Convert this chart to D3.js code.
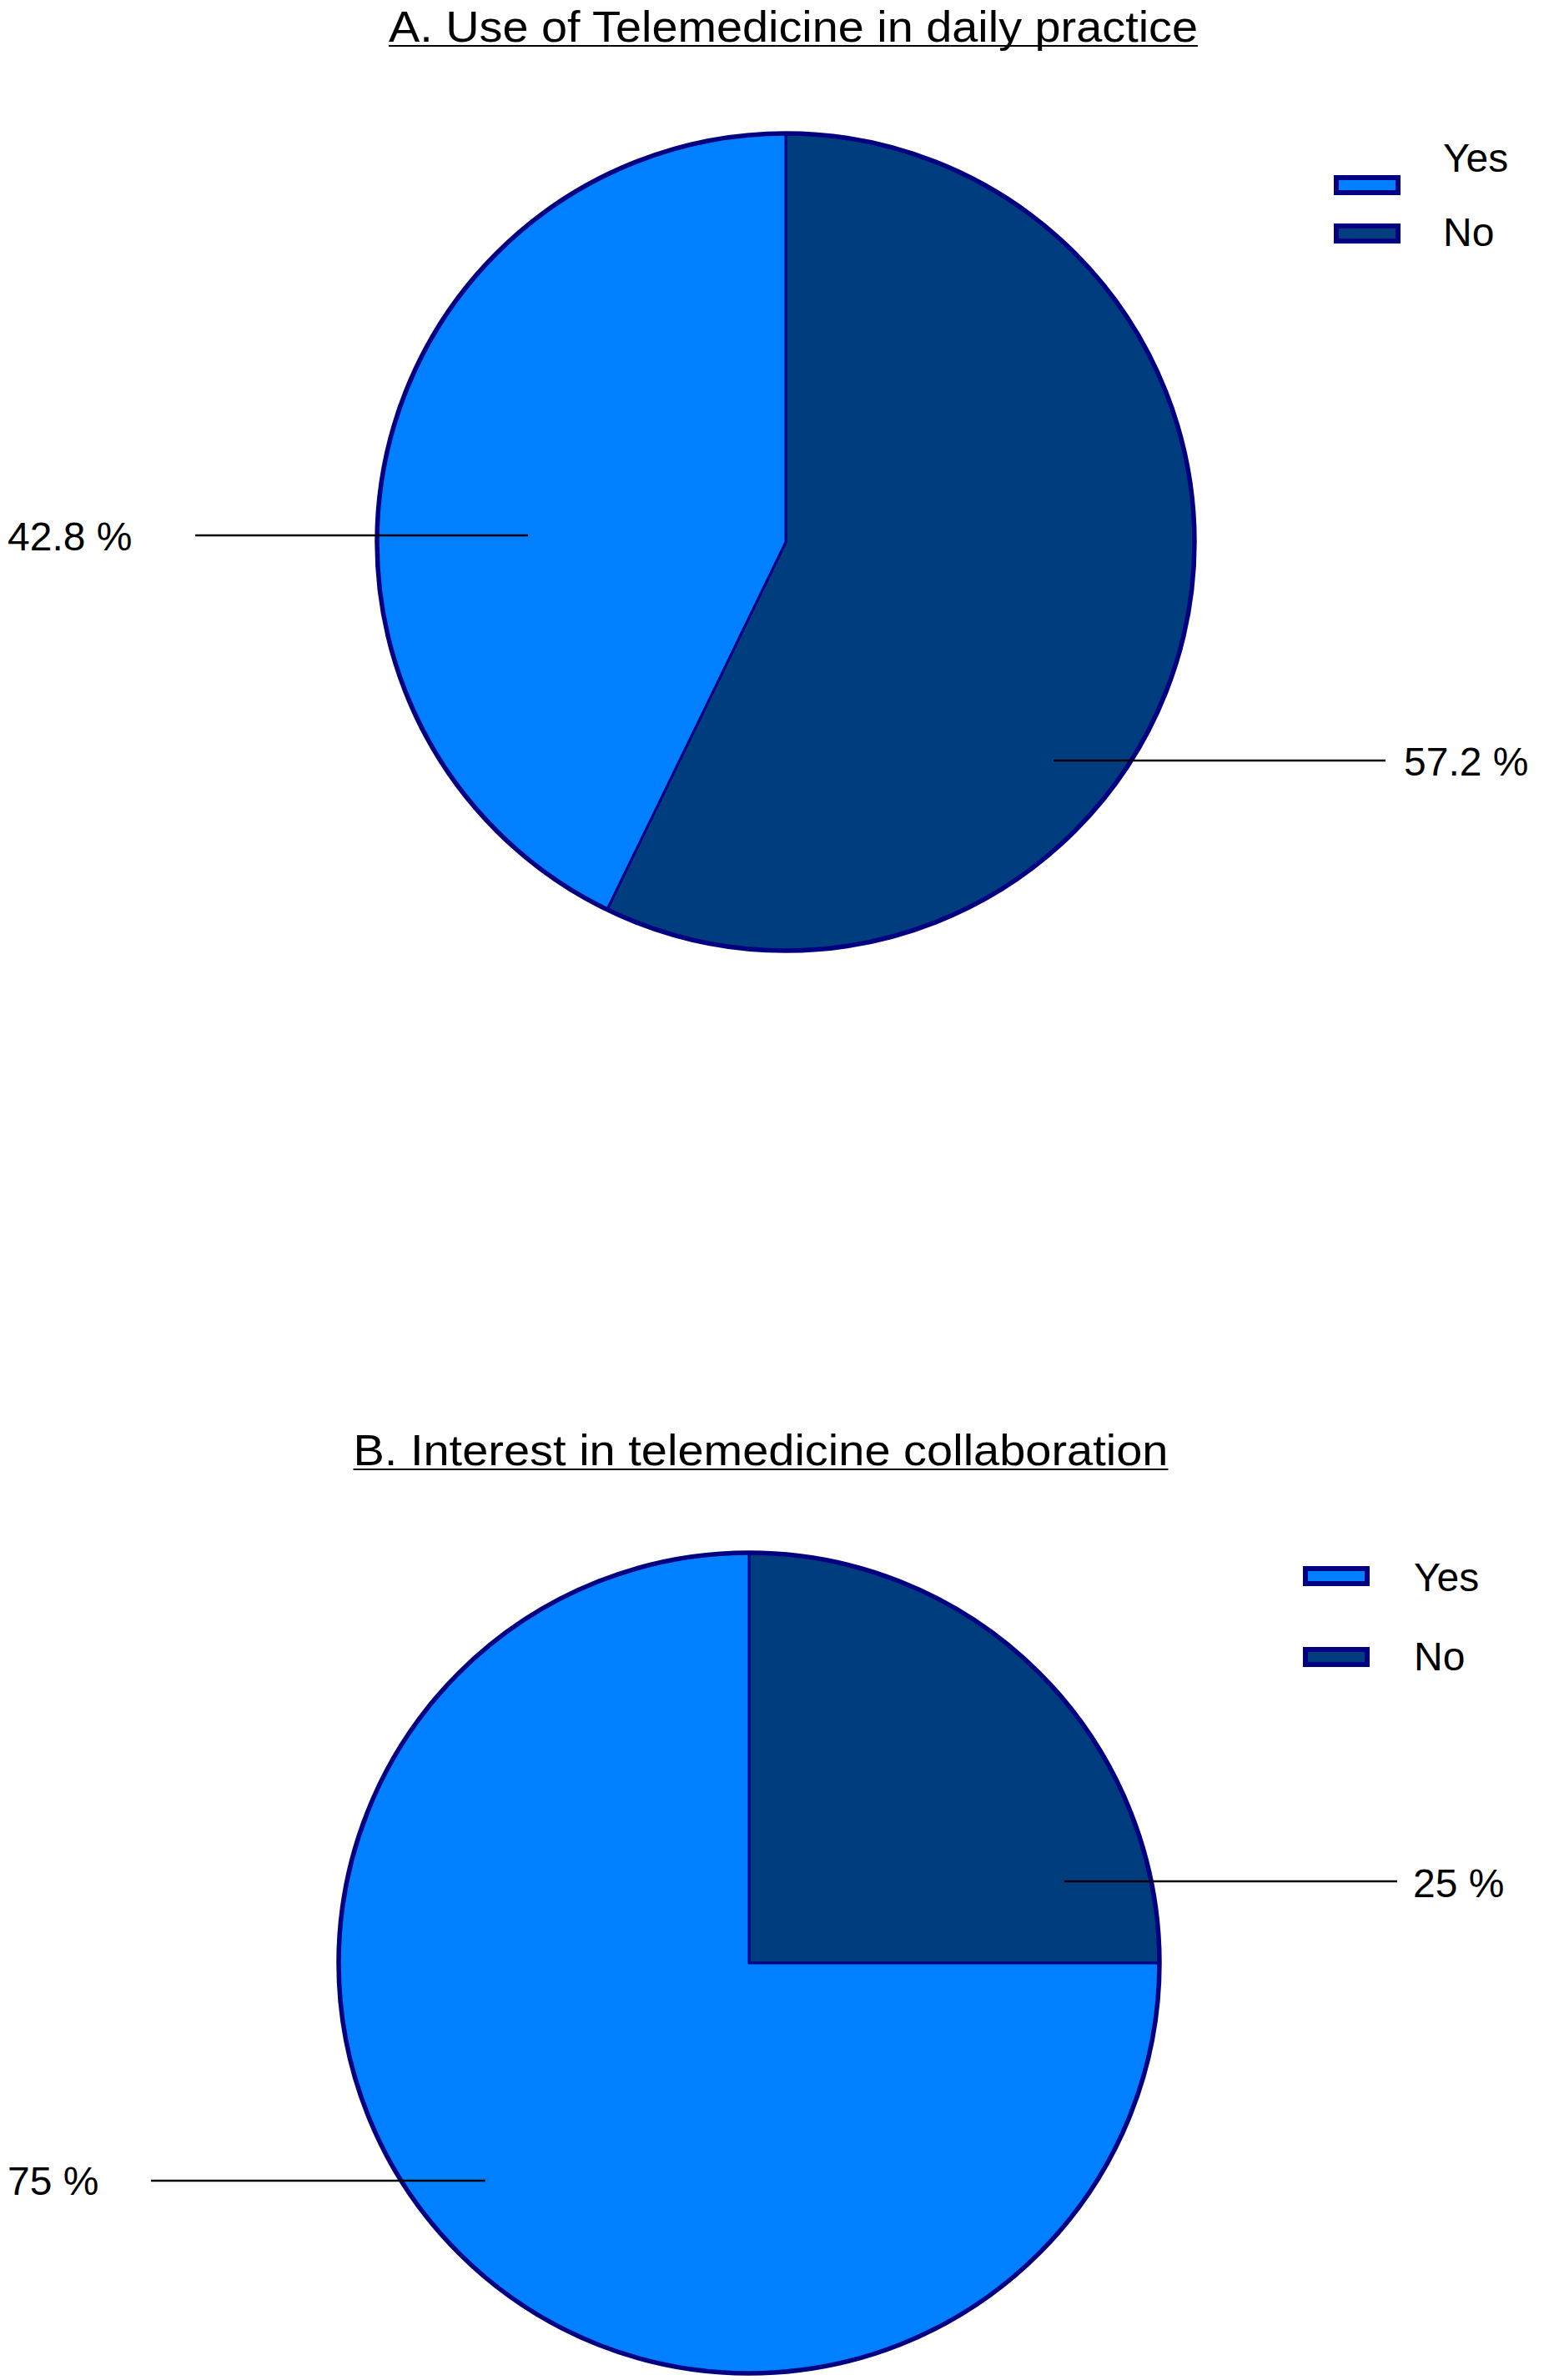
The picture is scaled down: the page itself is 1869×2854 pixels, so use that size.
<!DOCTYPE html>
<html><head><meta charset="utf-8">
<script src="https://cdn.jsdelivr.net/npm/d3@7"></script>
<style>body{margin:0;background:#fff}</style>
</head><body>
<svg id="chart" width="1869" height="2854"></svg>
<script>
// data
var categories = ["No", "Yes"];
var useValues = [57.2, 42.8];      // A. use in daily practice
var interestValues = [25, 75];     // B. interest in collaboration
var colors = {Yes: "#0080ff", No: "#003d7e"};
var stroke = "#000080";

var svg = d3.select("#chart");
var font = "Liberation Sans, Arial, sans-serif";

var panels = [
  {title: "A. Use of Telemedicine in daily practice", values: useValues, cx: 942, cy: 650, r: 490,
   titleX: 951, titleY: 50, titleW: 970,
   legX: 1599, legY: [210, 268], legTextY: [206, 295], legTextX: 1730,
   labels: {Yes: {lx: [234, 633], y: 642, tx: 9, ty: 648, anchor: "start"},
            No: {lx: [1263, 1661], y: 912, tx: 1683, ty: 918, anchor: "start"}}},
  {title: "B. Interest in telemedicine collaboration", values: interestValues, cx: 898, cy: 2354, r: 492,
   titleX: 912, titleY: 1757, titleW: 977,
   legX: 1562, legY: [1878, 1975], legTextY: [1908, 2003], legTextX: 1695,
   labels: {No: {lx: [1276, 1675], y: 2256, tx: 1694, ty: 2263, anchor: "start"},
            Yes: {lx: [181, 582], y: 2615, tx: 9, ty: 2620, anchor: "start"}}}
];

var pie = d3.pie().sort(null);
var arc = d3.arc().innerRadius(0);

panels.forEach(function (p) {
  var g = svg.append("g");
  var t = g.append("text").attr("x", p.titleX).attr("y", p.titleY)
    .attr("text-anchor", "middle").attr("font-family", font).attr("font-size", 52)
    .attr("textLength", p.titleW).attr("lengthAdjust", "spacingAndGlyphs")
    .text(p.title);
  g.append("line").attr("x1", p.titleX - p.titleW / 2).attr("x2", p.titleX + p.titleW / 2)
    .attr("y1", p.titleY + 5).attr("y2", p.titleY + 5).attr("stroke", "#000").attr("stroke-width", 2);

  var arcs = pie(p.values);
  g.selectAll("path.slice").data(arcs).enter().append("path")
    .attr("transform", "translate(" + p.cx + "," + p.cy + ")")
    .attr("d", arc.outerRadius(p.r))
    .attr("fill", function (d, i) { return colors[categories[i]]; })
    .attr("stroke", stroke).attr("stroke-width", 3).attr("stroke-linejoin", "round");
  g.append("circle").attr("cx", p.cx).attr("cy", p.cy).attr("r", p.r)
    .attr("fill", "none").attr("stroke", stroke).attr("stroke-width", 5.5);

  categories.forEach(function (c, i) {
    var L = p.labels[c];
    g.append("line").attr("x1", L.lx[0]).attr("x2", L.lx[1]).attr("y1", L.y).attr("y2", L.y)
      .attr("stroke", "#000").attr("stroke-width", 2.5);
    g.append("text").attr("x", L.tx).attr("y", L.ty + 12).attr("font-family", font)
      .attr("font-size", 48).text(p.values[i] + " %");
  });

  // legend: Yes then No
  ["Yes", "No"].forEach(function (c, i) {
    g.append("rect").attr("x", p.legX + 3).attr("y", p.legY[i] + 3).attr("width", 74).attr("height", 18)
      .attr("fill", colors[c]).attr("stroke", stroke).attr("stroke-width", 6);
    g.append("text").attr("x", p.legTextX).attr("y", p.legTextY[i]).attr("font-family", font)
      .attr("font-size", 48).text(c);
  });
});
</script>
</body></html>
